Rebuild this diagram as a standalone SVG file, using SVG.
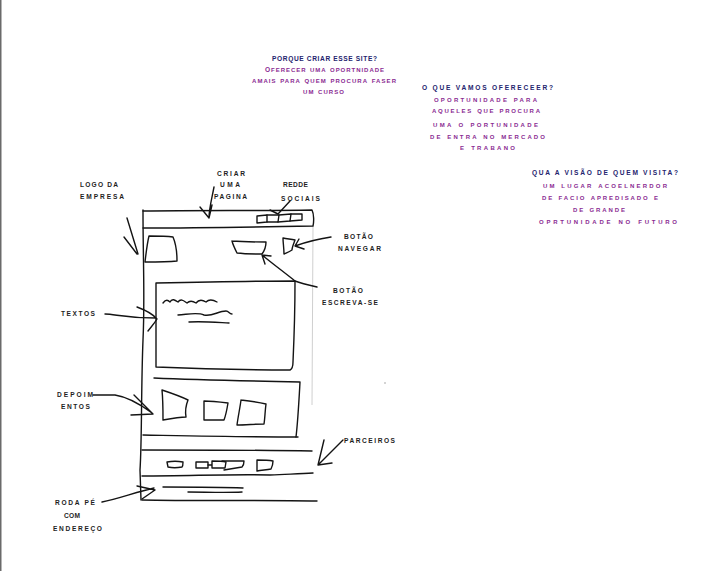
<svg xmlns="http://www.w3.org/2000/svg" width="708" height="571" viewBox="0 0 708 571">
<style>
  .t{font-family:"Liberation Sans","DejaVu Sans",sans-serif;font-size:6.6px;font-weight:bold;}
  .lbl{fill:#1e1e1e;}
  .hd{fill:#24246e;}
  .bd{fill:#8a2a92;font-variant:small-caps;font-size:9px;}
  .cap{font-size:6.6px;}
  .s{fill:none;stroke:#141414;stroke-width:1.4;stroke-linecap:round;stroke-linejoin:round;}
</style>
<rect x="0" y="0" width="708" height="571" fill="#ffffff"/>
<rect x="0" y="0" width="1.5" height="571" fill="#6a6a6a"/>

<g id="question-porque">
  <text class="t hd" x="272" y="60.5" textLength="105" lengthAdjust="spacing">PORQUE CRIAR ESSE SITE?</text>
  <text class="t bd" x="265" y="71.5" textLength="119" lengthAdjust="spacing"><tspan class="cap">O</tspan>ferecer uma oportnidade</text>
  <text class="t bd" x="252" y="82.5" textLength="144" lengthAdjust="spacing">amais  para quem procura faser</text>
  <text class="t bd" x="303" y="93.5" textLength="41" lengthAdjust="spacing">um curso</text>
</g>

<g id="question-oferecer">
  <text class="t hd" x="422" y="90" textLength="131" lengthAdjust="spacing">O QUE VAMOS OFERECEER?</text>
  <text class="t bd" x="434" y="101.5" textLength="103" lengthAdjust="spacing">oportunidade para</text>
  <text class="t bd" x="432" y="113" textLength="108" lengthAdjust="spacing">aqueles que procura</text>
  <text class="t bd" x="433" y="126.5" textLength="105" lengthAdjust="spacing">uma o portunidade</text>
  <text class="t bd" x="430" y="139" textLength="115" lengthAdjust="spacing">de entra no mercado</text>
  <text class="t bd" x="460" y="150" textLength="55" lengthAdjust="spacing">e trabano</text>
</g>

<g id="question-visao">
  <text class="t hd" x="532" y="175" textLength="146" lengthAdjust="spacing">QUA A VISÃO DE QUEM VISITA?</text>
  <text class="t bd" x="543" y="187.5" textLength="124" lengthAdjust="spacing">um lugar acoelnerdor</text>
  <text class="t bd" x="542" y="199.5" textLength="116" lengthAdjust="spacing">de facio apredisado e</text>
  <text class="t bd" x="573" y="211.5" textLength="52" lengthAdjust="spacing">de grande</text>
  <text class="t bd" x="539" y="224" textLength="138" lengthAdjust="spacing">oprtunidade no futuro</text>
</g>

<g id="labels">
  <text class="t lbl" x="80" y="186.5" textLength="38" lengthAdjust="spacing">LOGO DA</text>
  <text class="t lbl" x="80" y="198.5" textLength="44" lengthAdjust="spacing">EMPRESA</text>
  <text class="t lbl" x="217" y="175.5" textLength="28" lengthAdjust="spacing">CRIAR</text>
  <text class="t lbl" x="220" y="186.5" textLength="20" lengthAdjust="spacing">UMA</text>
  <text class="t lbl" x="214" y="198.5" textLength="33" lengthAdjust="spacing">PAGINA</text>
  <text class="t lbl" x="283" y="186.5" textLength="25" lengthAdjust="spacing">REDDE</text>
  <text class="t lbl" x="281" y="200.5" textLength="39" lengthAdjust="spacing">SOCIAIS</text>
  <text class="t lbl" x="344" y="238.5" textLength="29" lengthAdjust="spacing">BOTÃO</text>
  <text class="t lbl" x="338" y="250.5" textLength="43" lengthAdjust="spacing">NAVEGAR</text>
  <text class="t lbl" x="333" y="292.5" textLength="30" lengthAdjust="spacing">BOTÃO</text>
  <text class="t lbl" x="322" y="304.5" textLength="56" lengthAdjust="spacing">ESCREVA-SE</text>
  <text class="t lbl" x="61" y="315.5" textLength="34" lengthAdjust="spacing">TEXTOS</text>
  <text class="t lbl" x="57" y="396.5" textLength="36" lengthAdjust="spacing">DEPOIM</text>
  <text class="t lbl" x="61" y="408.5" textLength="29" lengthAdjust="spacing">ENTOS</text>
  <text class="t lbl" x="344" y="442.5" textLength="51" lengthAdjust="spacing">PARCEIROS</text>
  <text class="t lbl" x="55" y="504.5" textLength="40" lengthAdjust="spacing">RODA PÉ</text>
  <text class="t lbl" x="64" y="517.5" textLength="16" lengthAdjust="spacing">COM</text>
  <text class="t lbl" x="53" y="530.5" textLength="49" lengthAdjust="spacing">ENDEREÇO</text>
</g>

<g id="page-frame">
  <line x1="313" y1="226" x2="312" y2="405" stroke="#cfcfcf" stroke-width="1"/>
  <path class="s" d="M143,210 C143,260 145,300 143,340 C141,390 142,440 140,470 L141,500"/>
  <path class="s" d="M142,500 C190,501 260,500 317,501"/>
  <circle cx="385" cy="383" r="0.7" fill="#888"/>
</g>

<g id="header">
  <path class="s" d="M143,211 C200,210 260,211 312,210 C314,214 314,222 313,226 C260,227 200,228 143,228"/>
  <path class="s" d="M257,216 L267,215 L267,222 L257,223 Z"/>
  <path class="s" d="M267,215 L279,215 L278,222 L267,222"/>
  <path class="s" d="M279,215 L291,214 L290,221 L278,222"/>
  <path class="s" d="M291,214 L302,214 L302,220 L290,221"/>
</g>

<g id="logo">
  <path class="s" d="M145,262 C146,254 147,244 149,236 C157,236 166,236 173,237 C176,244 177,252 177,261 C167,262 156,262 145,262"/>
</g>

<g id="buttons">
  <path class="s" d="M232,241 C243,242 255,242 266,242 C266,246 265,250 262,254 C254,254 245,254 237,253 C235,249 233,245 232,241"/>
  <path class="s" d="M283,238 C287,239 291,239 295,240 C294,243 292,247 292,250 C289,252 286,253 284,254 C284,248 283,243 283,238"/>
</g>

<g id="content">
  <path class="s" d="M156,283 C200,282 250,281 295,281 C295,310 294,340 293,362 C293,366 292,369 290,370 C245,370 200,369 156,367 C156,340 156,310 156,283"/>
  <path class="s" d="M163,303 C166,299 168,300 170,302 C172,298 175,300 178,302 C181,298 184,301 187,303 C190,300 193,301 196,303 C199,299 203,300 206,302 C209,299 212,299 217,302"/>
  <path class="s" d="M178,315 C190,314 198,312 204,315 C212,317 218,311 226,311 C229,311 229,314 232,314"/>
  <path class="s" d="M189,322 C200,321 212,322 229,323"/>
</g>

<g id="testimonials">
  <path class="s" d="M154,378 C200,380 250,381 300,382 C299,400 298,420 296,437"/>
  <path class="s" d="M143,435 C200,436 250,437 298,437"/>
  <path class="s" d="M162,390 C171,393 180,396 188,400 C186,405 185,411 186,417 C180,417 174,418 163,420 C163,410 163,400 162,390"/>
  <path class="s" d="M204,401 C212,401 220,402 228,403 C227,409 226,415 224,420 C217,420 210,420 204,420 C204,414 204,407 204,401"/>
  <path class="s" d="M241,400 C250,401 258,402 266,404 C265,411 265,418 264,424 C255,424 246,425 237,425 C238,417 240,408 241,400"/>
</g>

<g id="partners">
  <path class="s" d="M142,450 C200,450 260,450 312,451"/>
  <path class="s" d="M167,462 C172,461 178,461 183,462 C183,464 183,466 182,467 C177,468 172,468 168,467 Z"/>
  <path class="s" d="M196,462 L208,462 L208,468 L196,468 Z"/>
  <path class="s" d="M208,465 L212,465 M212,461 C217,461 222,461 226,462 L225,468 L212,468 Z"/>
  <path class="s" d="M222,461 C230,461 237,461 244,461 C244,464 243,466 242,467 C236,468 230,469 224,470"/>
  <path class="s" d="M257,460 C262,460 268,460 273,461 C273,464 272,467 271,469 C266,470 261,470 257,471 Z"/>
  <path class="s" d="M142,476 C190,476 230,474 270,475 C290,474 300,474 313,473"/>
</g>

<g id="footer">
  <path class="s" d="M163,487 C190,487 220,487 243,488"/>
  <path class="s" d="M188,492 C205,492 225,493 242,492"/>
</g>

<g id="connectors">
  <path class="s" d="M127,218 L138,254 M124,237 L137,254"/>
  <path class="s" d="M214,187 C212,198 209,208 209,218 M200,207 L209,218 L212,205"/>
  <path class="s" d="M290,201 L278,214 M270,210 L278,214"/>
  <path class="s" d="M331,237 C318,239 306,242 295,246 M299,239 L295,246 L304,249"/>
  <path class="s" d="M317,287 C308,285 300,283 295,281 C285,273 273,264 262,255 M262,255 L265,264 M262,255 L271,256"/>
  <path class="s" d="M105,314 C115,314 125,318 156,318 M137,307 C145,310 153,314 157,319 C154,324 151,327 148,331"/>
  <path class="s" d="M93,395 L115,395 C128,397 140,404 152,413 M134,395 L153,414 L131,415"/>
  <path class="s" d="M343,440 L318,465 M324,440 L318,465 L332,463"/>
  <path class="s" d="M102,502 C118,499 136,492 154,488 M137,486 L155,490 L142,499"/>
</g>
</svg>
